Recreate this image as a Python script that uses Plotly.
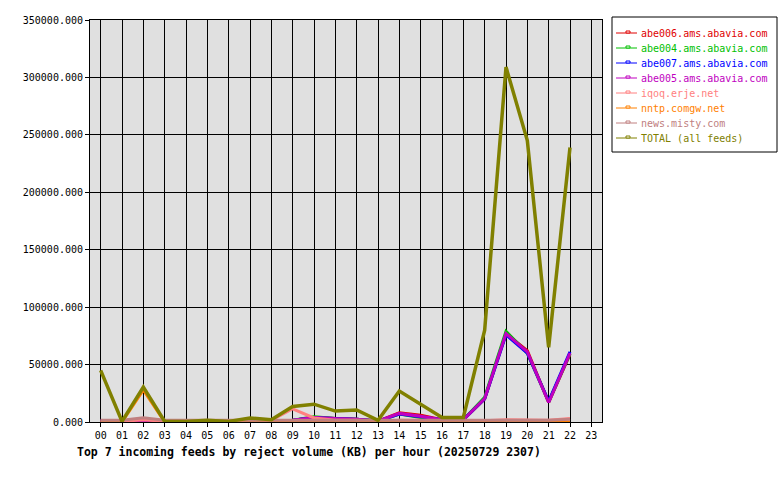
import plotly.graph_objects as go

hours = [f"{h:02d}" for h in range(24)]
hour_idx = list(range(23))  # data present for 00..22

abe006 = [1000, 1000, 500, 500, 500, 500, 500, 1000, 1000, 1500, 4000, 3000, 2500, 800, 8000, 6000, 2000, 2000, 20000, 77000, 62000, 17000, 59000]
abe004 = [1000, 1000, 500, 500, 500, 500, 500, 1000, 1000, 1500, 4500, 3000, 2500, 800, 7000, 4000, 2000, 2000, 21500, 79000, 60000, 17500, 59500]
abe007 = [1000, 1000, 500, 500, 500, 500, 500, 1000, 1000, 1500, 4000, 3000, 2500, 800, 7000, 4500, 2000, 2000, 20000, 76000, 60000, 18000, 61000]
abe005 = [1000, 1000, 500, 500, 500, 500, 500, 1000, 1000, 1500, 4000, 3000, 2500, 800, 7500, 5000, 2000, 2000, 20500, 77000, 61000, 17000, 60000]
iqoq = [500, 500, 2000, 500, 500, 500, 500, 1000, 1500, 11500, 3500, 1500, 1500, 500, 1500, 1500, 1000, 1000, 1000, 2000, 2000, 1500, 3000]
nntp = [0, 0, 28000, 0, 0, 0, 0, 0, 0, 0, 0, 0, 0, 0, 0, 0, 0, 0, 0, 0, 0, 0, 0]
misty = [1500, 1500, 3700, 1500, 1500, 1500, 1500, 1500, 1500, 2000, 2000, 2000, 2000, 1500, 2000, 2000, 1500, 1500, 1500, 2000, 2000, 1500, 2500]
total = [45000, 500, 30500, 500, 500, 1500, 500, 3500, 2000, 13500, 15500, 9500, 10500, 1500, 27000, 15500, 4000, 4000, 80000, 309000, 245000, 65000, 239000]

series_names = ["abe006.ams.abavia.com", "abe004.ams.abavia.com", "abe007.ams.abavia.com",
                "abe005.ams.abavia.com", "iqoq.erje.net", "nntp.comgw.net",
                "news.misty.com", "TOTAL (all feeds)"]
series_vals = [abe006, abe004, abe007, abe005, iqoq, nntp, misty, total]
series_colors = ["#e00000", "#00c000", "#0000ff", "#c000c0", "#ff8080", "#ff8000", "#c08080", "#808000"]

yticks = [0, 50000, 100000, 150000, 200000, 250000, 300000, 350000]

# plot-area geometry in pixels (for placing legend decorations)
PL, PR, PT, PB = 90, 602, 20, 422


def px(x):
    return (x - PL) / (PR - PL)


def py(y):
    return (PB - y) / (PB - PT)


fig = go.Figure()
for name, vals, col in zip(series_names, series_vals, series_colors):
    fig.add_trace(go.Scatter(
        x=hour_idx, y=vals, mode="lines", name=name, showlegend=False,
        line=dict(color=col, width=3.5 if name.startswith("TOTAL") else 3),
    ))

shapes = [dict(type="rect", xref="paper", yref="paper", x0=px(612), x1=px(777), y0=py(17), y1=py(152),
               line=dict(color="black", width=1), fillcolor="white", layer="above")]
annotations = []
for i, (name, col) in enumerate(zip(series_names, series_colors)):
    yy = 33 + 15 * i
    shapes.append(dict(type="line", xref="paper", yref="paper", x0=px(616), x1=px(637), y0=py(yy), y1=py(yy),
                       line=dict(color=col, width=1), layer="above"))
    shapes.append(dict(type="rect", xref="paper", yref="paper", x0=px(626), x1=px(630), y0=py(yy), y1=py(yy - 2),
                       line=dict(color=col, width=1), fillcolor="white", layer="above"))
    annotations.append(dict(text=name, xref="paper", yref="paper", x=px(639), y=py(yy),
                            xanchor="left", yanchor="middle", showarrow=False,
                            font=dict(family="DejaVu Sans Mono", size=10, color=col)))

annotations.append(dict(text="<b>Top 7 incoming feeds by reject volume (KB) per hour (20250729 2307)</b>",
                        xref="paper", yref="paper", x=px(75), y=py(452),
                        xanchor="left", yanchor="middle", showarrow=False,
                        font=dict(family="DejaVu Sans Mono", size=11.5, color="black")))

fig.update_layout(
    width=780, height=480,
    margin=dict(l=PL, r=780 - PR, t=PT, b=480 - PB, autoexpand=False),
    paper_bgcolor="white", plot_bgcolor="#e0e0e0",
    font=dict(family="DejaVu Sans Mono", size=10, color="black"),
    showlegend=False,
    xaxis=dict(range=[-0.5, 23.5], tickmode="array", tickvals=list(range(24)), ticktext=hours,
               showgrid=True, gridcolor="black", gridwidth=1, zeroline=False,
               showline=True, linecolor="black", linewidth=1, mirror=True, automargin=False,
               ticks="outside", ticklen=4, tickcolor="black", fixedrange=True),
    yaxis=dict(range=[0, 350000], tickmode="array", tickvals=yticks, tickformat=".3f",
               showgrid=True, gridcolor="black", gridwidth=1, zeroline=False,
               showline=True, linecolor="black", linewidth=1, mirror=True, automargin=False,
               ticks="outside", ticklen=4, tickcolor="black", fixedrange=True),
    shapes=shapes,
    annotations=annotations,
)

fig.write_html("out.html", config={"displayModeBar": False},
               post_script="document.body.style.margin='0';document.body.style.padding='0';")
